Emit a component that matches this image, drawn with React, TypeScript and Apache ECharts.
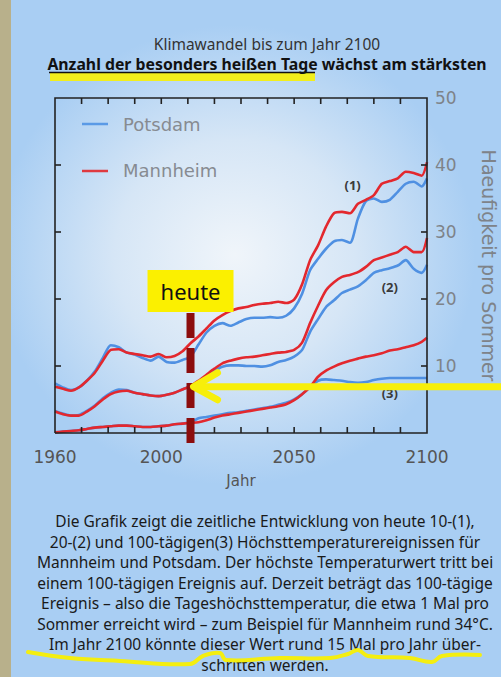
import React, { useEffect, useRef } from "react";
import * as echarts from "echarts";

const years = [1960,1963,1966,1969,1972,1975,1978,1981,1984,1987,
  1990,1993,1996,1999,2002,2005,2008,2011,2014,2017,
  2020,2023,2026,2029,2032,2035,2038,2041,2044,2047,
  2050,2053,2056,2059,2062,2065,2068,2071,2074,2077,
  2080,2083,2086,2089,2092,2095,2098,2100];

const mannheim10 = [6.9,6.6,6.3,6.8,7.8,9.0,10.8,12.4,12.5,12.0,
  11.8,11.6,11.4,11.8,11.3,11.5,12.2,13.4,14.4,15.6,
  16.8,17.6,18.2,18.6,18.8,19.1,19.3,19.4,19.6,19.4,
  19.9,22.2,25.8,28.0,30.8,32.8,33.0,32.8,34.2,34.8,
  35.5,37.2,37.6,38.0,39.0,38.8,38.4,40.4];
const potsdam10 = [7.4,6.8,6.4,6.8,7.8,9.2,11.2,13.1,12.8,12.0,
  11.7,11.2,10.8,11.4,10.6,10.5,10.9,11.4,13.2,15.0,
  16.0,16.4,16.0,16.5,17.0,17.2,17.2,17.3,17.2,17.5,
  18.6,20.8,24.3,26.0,27.5,28.6,28.8,28.4,32.0,34.6,
  35.0,34.5,34.8,36.0,37.2,37.5,36.8,38.0];
const mannheim20 = [3.2,2.8,2.6,2.6,3.2,4.0,5.0,5.8,6.2,6.3,
  6.0,5.8,5.6,5.5,5.7,6.0,6.5,7.0,7.8,8.7,
  9.6,10.4,10.8,11.1,11.3,11.4,11.6,11.8,12.0,12.1,
  12.4,13.5,16.4,19.0,21.3,22.5,23.3,23.6,24.0,24.8,
  25.8,26.2,26.6,27.0,27.8,27.0,27.0,29.1];
const potsdam20 = [3.3,2.9,2.6,2.7,3.3,4.1,5.2,6.0,6.5,6.4,
  6.0,5.8,5.6,5.5,5.7,6.0,6.5,7.0,7.6,8.5,
  9.3,9.9,10.1,10.1,10.0,10.0,9.9,10.1,10.6,10.9,
  11.4,12.4,15.1,17.0,18.8,19.8,20.9,21.4,21.9,22.8,
  23.9,24.3,24.6,25.0,25.8,24.5,23.9,25.1];
const mannheim100 = [0.1,0.2,0.3,0.4,0.6,0.8,0.9,1.0,1.1,1.1,
  1.0,0.9,0.9,1.0,1.1,1.3,1.4,1.5,1.6,1.9,
  2.3,2.6,2.8,3.0,3.2,3.4,3.6,3.8,4.0,4.3,
  4.9,5.8,6.9,8.4,9.3,9.9,10.4,10.8,11.1,11.4,
  11.6,11.9,12.3,12.5,12.8,13.1,13.6,14.2];
const potsdam100 = [0.1,0.2,0.3,0.4,0.6,0.8,0.9,1.0,1.1,1.1,
  1.0,0.9,0.9,1.0,1.1,1.3,1.4,1.6,2.2,2.4,
  2.6,2.8,3.0,3.1,3.3,3.5,3.7,3.9,4.2,4.5,
  5.0,5.8,6.8,7.8,8.0,7.9,7.8,7.6,7.5,7.6,
  7.9,8.1,8.2,8.2,8.2,8.2,8.2,8.2];

const xLabels = [1960, 2000, 2050, 2100];
const yLabels = [10, 20, 30, 40, 50];
const xTicks = [1970, 1980, 1990, 2000, 2010, 2020, 2030, 2040, 2050, 2060, 2070, 2080, 2090];
const yTicks = [10, 20, 30, 40];

const titleLine1 = "Klimawandel bis zum Jahr 2100";
const titleLine2 = "Anzahl der besonders heißen Tage wächst am stärksten";
const legendNames = ["Potsdam", "Mannheim"];
const curveMarks = [
  { label: "(1)", x: 2072, y: 37 },
  { label: "(2)", x: 2086, y: 21.8 },
  { label: "(3)", x: 2086, y: 6.0 },
];
const todayYear = 2011;
const arrowValue = 6.9;
const paragraph = [
  "Die Grafik zeigt die zeitliche Entwicklung von heute 10-(1),",
  "20-(2) und 100-tägigen(3) Höchsttemperaturereignissen für",
  "Mannheim und Potsdam. Der höchste Temperaturwert tritt bei",
  "einem 100-tägigen Ereignis auf. Derzeit beträgt das 100-tägige",
  "Ereignis – also die Tageshöchsttemperatur, die etwa 1 Mal pro",
  "Sommer erreicht wird – zum Beispiel für Mannheim rund 34°C.",
  "Im Jahr 2100 könnte dieser Wert rund 15 Mal pro Jahr über-",
  "schritten werden.",
];

const RED = "#e3282e";
const BLUE = "#4f90e2";
const AX = "#222222";
const W = 501;
const H = 677;
const GRID = { left: 55, right: 74, top: 98, bottom: 244 };

export default function App() {
  const ref = useRef<HTMLDivElement>(null);
  useEffect(() => {
    const chart = echarts.init(ref.current!, null, { renderer: "svg" });
    const pair = (arr: number[]) => years.map((y, i) => [y, arr[i]]);
    const lineSeries = (name: string, data: number[], color: string) => ({
      type: "line",
      name,
      data: pair(data),
      smooth: 0.25,
      symbol: "none",
      lineStyle: { color, width: 2.6 },
      itemStyle: { color },
      z: color === RED ? 4 : 3,
    });
    chart.setOption({
      animation: false,
      grid: { ...GRID, outerBoundsMode: "none" },
      xAxis: [
        {
          type: "value", min: 1960, max: 2100, interval: 10,
          position: "bottom",
          axisLine: { show: false },
          axisTick: { show: false },
          splitLine: { show: false },
          axisLabel: {
            formatter: (v: number) => (xLabels.includes(v) ? String(v) : ""),
            color: "#555555",
            fontSize: 17,
            fontFamily: "DejaVu Sans",
            margin: 15,
          },
          name: "Jahr",
          nameLocation: "middle",
          nameGap: 40,
          nameTextStyle: { color: "#555555", fontSize: 15, fontFamily: "DejaVu Sans" },
        },
      ],
      yAxis: [
        {
          type: "value", min: 0, max: 50, interval: 10,
          position: "right",
          axisLine: { show: false },
          axisTick: { show: false },
          splitLine: { show: false },
          axisLabel: {
            formatter: (v: number) => (yLabels.includes(v) ? String(v) : ""),
            color: "#7e8389",
            fontSize: 17,
            fontFamily: "DejaVu Sans",
            margin: 8,
          },
          name: "Haeufigkeit pro Sommer",
          nameLocation: "middle",
          nameRotate: -90,
          nameGap: 52,
          nameTextStyle: { color: "#7e8389", fontSize: 19, fontFamily: "DejaVu Sans" },
        },
      ],
      series: [
        lineSeries("Potsdam", potsdam10, BLUE),
        lineSeries("Potsdam", potsdam20, BLUE),
        lineSeries("Potsdam", potsdam100, BLUE),
        lineSeries("Mannheim", mannheim10, RED),
        lineSeries("Mannheim", mannheim20, RED),
        lineSeries("Mannheim", mannheim100, RED),
      ],
    });

    const px = (x: number, y: number) => {
      const p = chart.convertToPixel({ gridIndex: 0 } as any, [x, y]) as number[];
      return [Number(p[0]), Number(p[1])];
    };
    const todayPx = px(todayYear, arrowValue);
    const tx = Number.isFinite(todayPx[0]) ? todayPx[0] : 191;
    const ty = Number.isFinite(todayPx[1]) ? todayPx[1] : 387;

    const x0 = GRID.left;
    const x1 = W - GRID.right;
    const y1 = GRID.top;
    const y0 = H - GRID.bottom;

    const tickPts: number[][][] = [];
    xTicks.forEach((v) => {
      const x = px(v, 10)[0];
      tickPts.push([[x, y0], [x, y0 - 6]]);
      tickPts.push([[x, y1], [x, y1 + 6]]);
    });
    yTicks.forEach((v) => {
      const y = px(1970, v)[1];
      tickPts.push([[x0, y], [x0 + 6, y]]);
      tickPts.push([[x1, y], [x1 - 6, y]]);
    });

    const graphic: any[] = [
      {
        type: "text",
        x: 267,
        y: 44,
        style: { text: titleLine1, fill: "#333333", font: "15.5px 'Noto Sans'", align: "center", verticalAlign: "middle" },
      },
      { type: "rect", shape: { x: 50, y: 73, width: 265, height: 8 }, style: { fill: "#f2ee1c" } },
      {
        type: "text",
        x: 267,
        y: 64,
        style: { text: titleLine2, fill: "#111111", font: "bold 15.8px 'Noto Sans'", align: "center", verticalAlign: "middle" },
      },
      { type: "line", shape: { x1: 49, y1: 72.5, x2: 315, y2: 72.5 }, style: { stroke: "#111111", lineWidth: 1.5 } },
      { type: "line", shape: { x1: 82, y1: 124, x2: 108, y2: 124 }, style: { stroke: "#5a9ae6", lineWidth: 2.5 } },
      {
        type: "text",
        x: 123,
        y: 124,
        style: { text: legendNames[0], fill: "#878b91", font: "18px 'DejaVu Sans'", verticalAlign: "middle" },
      },
      { type: "line", shape: { x1: 82, y1: 171, x2: 108, y2: 171 }, style: { stroke: "#df3a40", lineWidth: 2.5 } },
      {
        type: "text",
        x: 123,
        y: 170,
        style: { text: legendNames[1], fill: "#878b91", font: "18px 'DejaVu Sans'", verticalAlign: "middle" },
      },
      ...curveMarks.map((m) => {
        const p = px(m.x, m.y);
        return {
          type: "text",
          x: p[0],
          y: p[1],
          z: 5,
          style: { text: m.label, fill: "#3a3a3a", font: "bold 13px 'Noto Sans'", align: "center", verticalAlign: "middle" },
        };
      }),
      { type: "rect", z: 10, shape: { x: tx - 43, y: 270, width: 86, height: 42 }, style: { fill: "#fbf000" } },
      {
        type: "text",
        x: tx,
        y: 291,
        z: 11,
        style: { text: "heute", fill: "#111111", font: "22px 'Noto Sans'", align: "center", verticalAlign: "middle" },
      },
      {
        type: "line",
        z: 10,
        shape: { x1: tx, y1: 313, x2: tx, y2: 443 },
        style: { stroke: "#8c0d0d", lineWidth: 8, lineDash: [25, 10] },
      },
      {
        type: "line",
        z: 12,
        shape: { x1: W, y1: ty, x2: tx + 5, y2: ty },
        style: { stroke: "#f7ef0a", lineWidth: 7 },
      },
      {
        type: "polyline",
        z: 12,
        shape: { points: [[tx + 27, ty - 14], [tx + 3, ty], [tx + 27, ty + 13]] },
        style: { stroke: "#f7ef0a", lineWidth: 7, lineCap: "round", lineJoin: "round", fill: "none" },
      },
      {
        type: "text",
        x: 265,
        y: 511,
        style: {
          text: paragraph.join("\n"),
          fill: "#1a1a1a",
          font: "15.5px 'Noto Sans'",
          lineHeight: 20.5,
          align: "center",
          verticalAlign: "top",
        },
      },
      {
        type: "polyline",
        z: 12,
        shape: {
          smooth: 0.4,
          points: [[28, 652], [70, 658], [120, 661], [190, 664], [203, 656], [220, 653], [226, 660], [280, 658],
            [330, 658], [348, 654], [358, 650], [368, 656], [410, 658], [432, 662], [442, 656], [480, 655]],
        },
        style: { stroke: "#f4ee10", lineWidth: 4, lineCap: "round", fill: "none" },
      },
      // plot frame as a closed polyline, drawn last
      {
        type: "polyline",
        z: 9,
        shape: { points: [[x0, y0], [x0, y1], [x1, y1], [x1, y0], [x0, y0]] },
        style: { stroke: AX, lineWidth: 1.6, fill: "none", lineJoin: "miter" },
      },
      ...tickPts.map((pts) => ({
        type: "polyline",
        z: 9,
        shape: { points: pts },
        style: { stroke: AX, lineWidth: 1.6, fill: "none" },
      })),
    ];
    chart.setOption({ graphic });
    return () => chart.dispose();
  }, []);
  return (
    <div
      ref={ref}
      style={{
        position: "fixed",
        left: 0,
        top: 0,
        width: W,
        height: H,
        background:
          "linear-gradient(to right, #b8b08b 0px, #b8b08b 11px, transparent 11px), radial-gradient(ellipse 240px 230px at 235px 255px, #f0f5fa 0%, #d6e6f6 50%, #a9cef3 100%) , #a2c9f1",
      }}
    />
  );
}
